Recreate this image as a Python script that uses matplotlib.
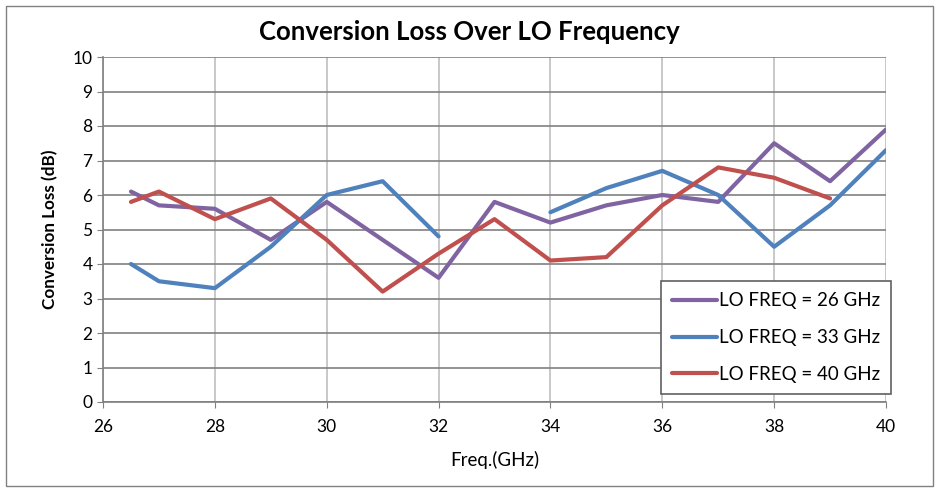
import numpy as np
import matplotlib.pyplot as plt
from matplotlib.patches import Rectangle

plt.rcParams['font.family'] = ['Lato', 'DejaVu Sans']

freq = [26.5, 27, 28, 29, 30, 31, 32, 33, 34, 35, 36, 37, 38, 39, 40]
loss_26 = [6.1, 5.7, 5.6, 4.7, 5.8, 4.7, 3.6, 5.8, 5.2, 5.7, 6.0, 5.8, 7.5, 6.4, 7.9]
loss_33 = [4.0, 3.5, 3.3, 4.5, 6.0, 6.4, 4.8, np.nan, 5.5, 6.2, 6.7, 6.0, 4.5, 5.7, 7.3]
loss_40 = [5.8, 6.1, 5.3, 5.9, 4.7, 3.2, 4.3, 5.3, 4.1, 4.2, 5.7, 6.8, 6.5, 5.9, np.nan]
labels = ["LO FREQ = 26 GHz", "LO FREQ = 33 GHz", "LO FREQ = 40 GHz"]

fig = plt.figure(figsize=(9.39, 4.92), dpi=100)
ax = fig.add_axes([103 / 939, 1 - 402 / 492, (886 - 103) / 939, (402 - 57) / 492])

fig.patches.append(Rectangle((6 / 939, 6 / 492), 927 / 939, 480 / 492, transform=fig.transFigure,
                             fill=False, edgecolor="#808080", lw=1))

ax.plot(freq, loss_26, color="#8064A2", lw=3, label=labels[0], solid_capstyle="round")
ax.plot(freq, loss_33, color="#4F81BD", lw=3, label=labels[1], solid_capstyle="round")
ax.plot(freq, loss_40, color="#C0504D", lw=3, label=labels[2], solid_capstyle="round")

ax.set_xlim(26, 40)
ax.set_ylim(0, 10)
ax.set_xticks(np.arange(26, 41, 2))
ax.set_yticks(np.arange(0, 11, 1))
ax.yaxis.grid(True, color="#808080", lw=1.2)
ax.xaxis.grid(True, color="#BFBFBF", lw=1.2)
ax.set_axisbelow(True)
for s in ["top", "right"]:
    ax.spines[s].set_visible(False)
for s in ["left", "bottom"]:
    ax.spines[s].set_color("#808080")
    ax.spines[s].set_linewidth(1.2)
ax.tick_params(direction="out", length=4, color="#808080", labelsize=12.5)
ax.tick_params(axis="x", pad=8)

fig.suptitle("Conversion Loss Over LO Frequency", x=0.5, y=1 - 32 / 492, va="center",
             fontsize=18.5, fontweight="bold")
ax.set_xlabel("Freq.(GHz)", fontsize=13.5, labelpad=12)
ax.set_ylabel("Conversion Loss (dB)", fontsize=12.3, fontweight="bold", labelpad=10)

leg = ax.legend(loc="lower right", bbox_to_anchor=(1.007, 0.023), fontsize=13.5, frameon=True,
                fancybox=False, edgecolor="#606060", handlelength=2.4, handletextpad=0.1,
                labelspacing=1.05, borderpad=0.6, borderaxespad=0, framealpha=1)
leg.get_frame().set_linewidth(1.2)

fig.savefig("out.png", dpi=100)
